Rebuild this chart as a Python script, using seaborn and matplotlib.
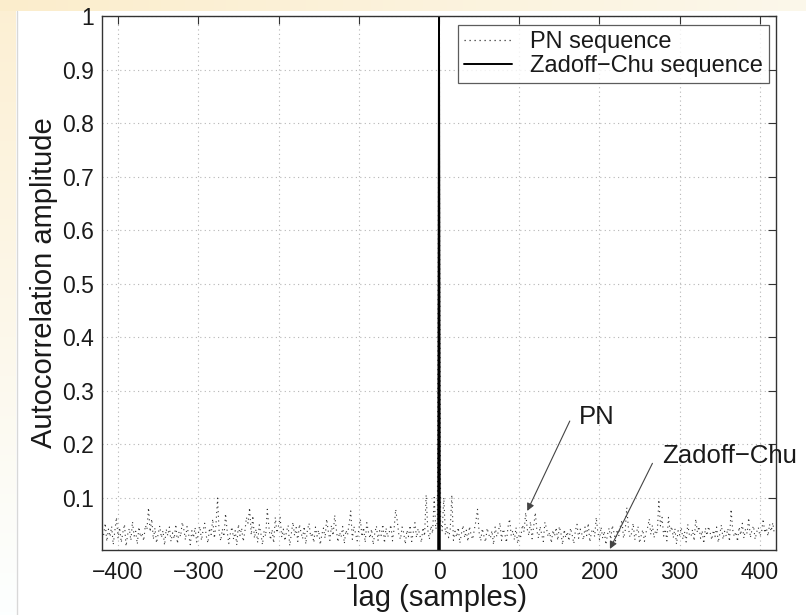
import numpy as np
import pandas as pd
import seaborn as sns
import matplotlib
matplotlib.use("Agg")
import matplotlib.pyplot as plt
from matplotlib.lines import Line2D

# ---------------- data ----------------
# PN sequence autocorrelation amplitude, sampled every 2 lags
pn_lags_neg = list(range(-418, 0, 2))   # -418 ... -2
pn_neg = [
    .030, .052, .018, .041, .027, .046, .012, .038, .063, .024,
    .044, .016, .035, .050, .009, .031, .042, .020, .055, .028,
    .037, .013, .045, .026, .034, .019, .048, .040, .081, .036,
    .060, .022, .043, .015, .032, .047, .025, .038, .011, .041,
    .029, .045, .018, .034, .023, .050, .014, .036, .027, .054,
    .040, .021, .046, .031, .012, .038, .025, .044, .017, .033,
    .046, .020, .039, .052, .028, .015, .043, .031, .060, .024,
    .048, .099, .035, .019, .041, .027, .070, .037, .014, .033,
    .045, .022, .038, .011, .050, .029, .043, .018, .036, .063,
    .052, .081, .030, .066, .024, .041, .016, .049, .033, .012,
    .037, .028, .078, .045, .021, .040, .015, .063, .034, .047,
    .063, .026, .041, .019, .037, .048, .010, .033, .054, .029,
    .044, .018, .050, .035, .023, .046, .013, .039, .052, .027,
    .034, .016, .045, .028, .039, .012, .031, .043, .024, .060,
    .037, .020, .048, .029, .067, .041, .017, .035, .026, .046,
    .014, .039, .030, .051, .075, .022, .046, .033, .019, .040,
    .060, .027, .044, .016, .053, .036, .024, .041, .012, .034,
    .047, .020, .038, .029, .050, .015, .043, .026, .035, .049,
    .019, .041, .078, .056, .030, .022, .045, .034, .013, .039,
    .027, .048, .018, .036, .053, .025, .042, .031, .016, .044,
    .028, .105, .040, .022, .047, .033, .100, .041, .054,
]
pn_center_lag = [0]
pn_center = [1.0]
pn_lags_pos = list(range(2, 419, 2))    # 2 ... 418
pn_pos = [
    .055, .038, .100, .030, .044, .025, .041, .105, .020, .037,
    .026, .044, .015, .033, .048, .025, .039, .018, .046, .030,
    .022, .040, .056, .078, .035, .019, .042, .028, .017, .043,
    .031, .024, .038, .012, .045, .027, .036, .053, .020, .041,
    .033, .016, .045, .060, .029, .038, .021, .044, .014, .032,
    .027, .049, .036, .072, .041, .029, .055, .023, .046, .072,
    .038, .024, .046, .031, .018, .054, .042, .027, .035, .015,
    .039, .028, .044, .020, .046, .033, .012, .040, .025, .036,
    .019, .043, .030, .014, .038, .050, .024, .041, .032, .021,
    .045, .029, .052, .017, .036, .041, .027, .063, .034, .022,
    .045, .024, .037, .012, .031, .043, .022, .048, .035, .019,
    .040, .028, .046, .058, .024, .037, .081, .044, .026, .033,
    .052, .021, .034, .046, .015, .029, .040, .018, .035, .044,
    .060, .031, .048, .025, .039, .033, .096, .047, .063, .028,
    .041, .019, .063, .036, .046, .025, .042, .013, .038, .030,
    .044, .022, .036, .017, .050, .031, .027, .040, .019, .060,
    .035, .046, .024, .038, .014, .043, .029, .046, .034, .021,
    .039, .027, .045, .016, .033, .049, .022, .037, .028, .042,
    .018, .078, .040, .027, .036, .018, .045, .030, .052, .024,
    .041, .033, .062, .025, .039, .047, .022, .036, .044, .028,
    .035, .060, .034, .043, .028, .050, .037, .053, .031,
]

# Zadoff-Chu: ideal autocorrelation (1 at lag 0, 0 elsewhere)
zc_lags = [-419, -1, 0, 1, 419]
zc_vals = [0.0, 0.0, 1.0, 0.0, 0.0]

series_names = ["PN sequence", "Zadoff\u2212Chu sequence"]
x_ticks = [-400, -300, -200, -100, 0, 100, 200, 300, 400]
y_ticks = [0.1, 0.2, 0.3, 0.4, 0.5, 0.6, 0.7, 0.8, 0.9, 1.0]
y_tick_labels = ["0.1", "0.2", "0.3", "0.4", "0.5", "0.6", "0.7", "0.8", "0.9", "1"]

# ---------------- figure ----------------
sns.set_theme(style="white")
plt.rcParams["font.family"] = ["Liberation Sans", "DejaVu Sans"]

W, H = 806, 615
fig = plt.figure(figsize=(W / 100, H / 100), dpi=100)
fig.patch.set_facecolor("white")

# slide-like cream band on top and at the left
bg = fig.add_axes([0, 0, 1, 1], zorder=-10)
bg.set_axis_off()
grad_top = np.linspace(0, 1, 200)[None, :]
bg.imshow(np.dstack([np.full((1, 200), 0.985), 0.93 + 0.04 * grad_top, 0.80 + 0.12 * grad_top]),
          extent=[0, W, H - 11, H], aspect="auto")
grad_left = np.linspace(0, 1, 200)[:, None]
left_rgb = np.dstack([np.full((200, 1), 0.99), 0.94 + 0.06 * grad_left, 0.83 + 0.17 * grad_left])
bg.imshow(left_rgb, extent=[0, 16, 0, H - 11], aspect="auto")
bg.plot([16.5, 16.5], [0, H - 11], color="#d8d8d8", lw=1)
bg.set_xlim(0, W)
bg.set_ylim(0, H)

ax = fig.add_axes([102 / W, 1 - 550 / H, (776 - 102) / W, (550 - 16) / H])
ax.set_facecolor("white")

df_pn = pd.DataFrame({
    "lag": pn_lags_neg + pn_center_lag + pn_lags_pos,
    "amp": pn_neg + pn_center + pn_pos,
})
df_zc = pd.DataFrame({"lag": zc_lags, "amp": zc_vals})

pn_style = dict(color="#333333", lw=0.8, linestyle=(0, (1, 3.2)))
zc_style = dict(color="black", lw=1.4, linestyle="-")

sns.lineplot(data=df_pn, x="lag", y="amp", ax=ax, errorbar=None, legend=False, **pn_style)
sns.lineplot(data=df_zc, x="lag", y="amp", ax=ax, errorbar=None, legend=False, **zc_style)

ax.set_xlim(-420, 420)
ax.set_ylim(0.002, 1.0)
ax.set_xticks(x_ticks)
ax.set_yticks(y_ticks)
ax.set_yticklabels(y_tick_labels)

ax.grid(True, color="#b5b5b5", linestyle=(0, (1, 3)), lw=0.8)
for s in ax.spines.values():
    s.set_color("#333333")
    s.set_linewidth(1.0)
ax.tick_params(axis="both", direction="in", length=6, width=0.8, color="#333333",
               top=True, right=True, labelsize=16.5, labelcolor="#1a1a1a")
ax.tick_params(axis="x", pad=8)
ax.tick_params(axis="y", pad=6)

ax.set_xlabel("lag (samples)", fontsize=21, color="#1a1a1a", labelpad=0)
ax.set_ylabel("Autocorrelation amplitude", fontsize=21, color="#1a1a1a", labelpad=3)

handles = [Line2D([], [], color="#333333", lw=0.9, linestyle=(0, (1, 3))),
           Line2D([], [], **zc_style)]
leg = ax.legend(handles, series_names, loc="upper right", bbox_to_anchor=(0.99, 0.983),
                borderaxespad=0, fontsize=17, frameon=True, fancybox=False,
                handlelength=2.0, handletextpad=0.8, borderpad=0.25, labelspacing=0.08)
leg.get_frame().set_edgecolor("#333333")
leg.get_frame().set_linewidth(0.9)
for t in leg.get_texts():
    t.set_color("#1a1a1a")

arrow_kw = dict(arrowstyle="-|>", color="#444444", lw=0.8, mutation_scale=11,
                shrinkA=0, shrinkB=0)
ax.annotate("", xy=(110, 0.075), xytext=(163, 0.243), arrowprops=arrow_kw)
ax.text(197, 0.25, "PN", fontsize=18.5, ha="center", va="center", color="#1a1a1a")
ax.annotate("", xy=(213, 0.004), xytext=(266, 0.164), arrowprops=arrow_kw, annotation_clip=False)
ax.text(278, 0.178, "Zadoff\u2212Chu", fontsize=18.5, ha="left", va="center",
        color="#1a1a1a", clip_on=False)

fig.savefig("out.png", dpi=100)
